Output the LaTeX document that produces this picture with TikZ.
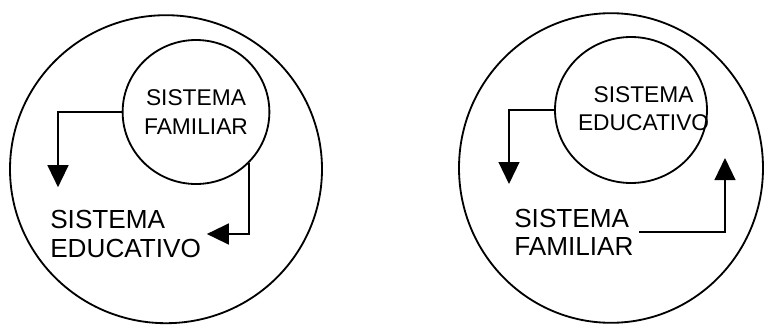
\documentclass[tikz,border=0pt]{standalone}
\usepackage{fontspec}
\setmainfont{Liberation Sans}
\usepackage{tikz}
\usetikzlibrary{shapes,arrows,arrows.meta,calc,positioning}

\begin{document}
\begin{tikzpicture}[
  ring/.style={ellipse,draw=black,line width=1.3pt,inner sep=0pt},
  intext/.style={align=center,font=\fontsize{16.2}{20}\selectfont,inner sep=0pt},
  outtext/.style={align=left,font=\fontsize{18.6}{20}\selectfont,inner sep=4pt,anchor=west},
  arrow/.style={-{Triangle[length=0.55cm,width=0.52cm]},line width=1.4pt},
]
\useasboundingbox (0,0) rectangle (19.1,8.1);

% LEFT: FAMILY INSIDE SCHOOL
\node[ring,minimum width=7.8cm,minimum height=7.7cm] (schoolL) at (4.15,3.87) {};
\node[ring,minimum width=3.6cm,minimum height=3.6cm,intext] (famL) at (4.9,5.3) {SISTEMA\\FAMILIAR};
\node[outtext] (eduL) at (1.11,2.25) {SISTEMA\\EDUCATIVO};
\coordinate (tipL) at (1.45,3.42);

% RIGHT: SCHOOL INSIDE FAMILY
\node[ring,minimum width=7.6cm,minimum height=7.74cm] (homeR) at (15.275,3.9) {};
\node[ring,minimum width=3.8cm,minimum height=3.65cm] (eduR) at (15.775,5.35) {};
\node[intext] (eduRtext) at (16.09,5.375) {SISTEMA\\EDUCATIVO};
\node[outtext] (famR) at (12.71,2.3) {SISTEMA\\FAMILIAR};
\coordinate (tipR1) at (12.725,3.5);
\coordinate (tipR2) at (18.125,4.15);

% EDGES
\draw[arrow] (famL.west) -| (tipL);
\draw[arrow] (famL.-44) |- (eduL.east);
\draw[arrow] (eduR.west) -| (tipR1);
\draw[arrow] (famR.east) -| (tipR2);
\end{tikzpicture}
\end{document}
